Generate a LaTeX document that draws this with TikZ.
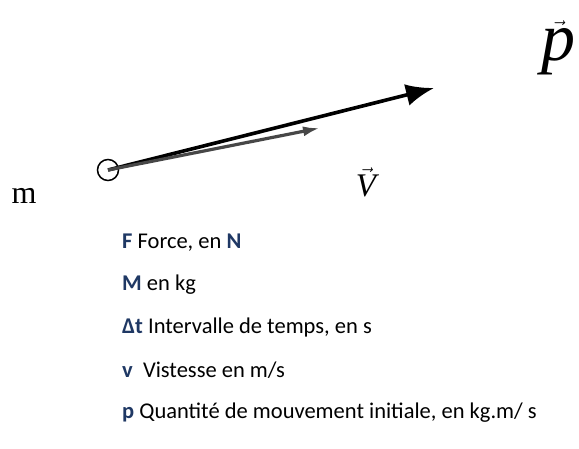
\documentclass[tikz,border=0pt]{standalone}
\usepackage{fontspec}
\setmainfont{Carlito}
\newfontfamily\timesfont{Liberation Serif}
\usetikzlibrary{arrows.meta}
\definecolor{navy}{RGB}{31,56,100}
\newcommand{\bl}[1]{\textbf{\color{navy}#1}}
\begin{document}
\begin{tikzpicture}[
    x=1pt, y=-1pt,
    ball/.style={draw, circle, line width=1.5pt, minimum size=21pt, inner sep=0pt},
    momentum/.style={line width=3.6pt, -{Latex[length=28pt,width=22pt]}},
    velocity/.style={draw=black!72, line width=3.2pt, -{Latex[length=17pt,width=10pt]}},
    item/.style={anchor=west, inner sep=0pt, font=\fontsize{22.5}{26}\selectfont}
]
    \useasboundingbox (0,0) rectangle (579,448);
    % Mass
    \node[font=\timesfont\fontsize{32}{36}\selectfont] (m) at (24,196) {m};
    \node[ball] (o) at (108,170) {};
    % Vectors
    \coordinate (ptip) at (434,88);
    \coordinate (vtip) at (320,128);
    \draw[momentum] (o.center) -- (ptip);
    \draw[velocity] (o.center) -- (vtip);
    \node[font=\timesfont\fontsize{68}{72}\selectfont] (p) at (558,48) {$\vec{\mbox{\itshape p}}$};
    \node[font=\timesfont\fontsize{33}{36}\selectfont] (V) at (366,182) {$\vec{\mbox{\itshape V}}$};
    % Legend
    \node[item] (f) at (122,243) {\bl{F} Force, en \bl{N}};
    \node[item] (mm) at (122,285) {\bl{M} en kg};
    \node[item] (dt) at (122,327) {\bl{Δt} Intervalle de temps, en s};
    \node[item] (v) at (122,370) {\bl{v}\ \ Vistesse en m/s};
    \node[item] (q) at (122,413) {\bl{p} Quantité de mouvement initiale, en kg.m/ s};
\end{tikzpicture}
\end{document}
